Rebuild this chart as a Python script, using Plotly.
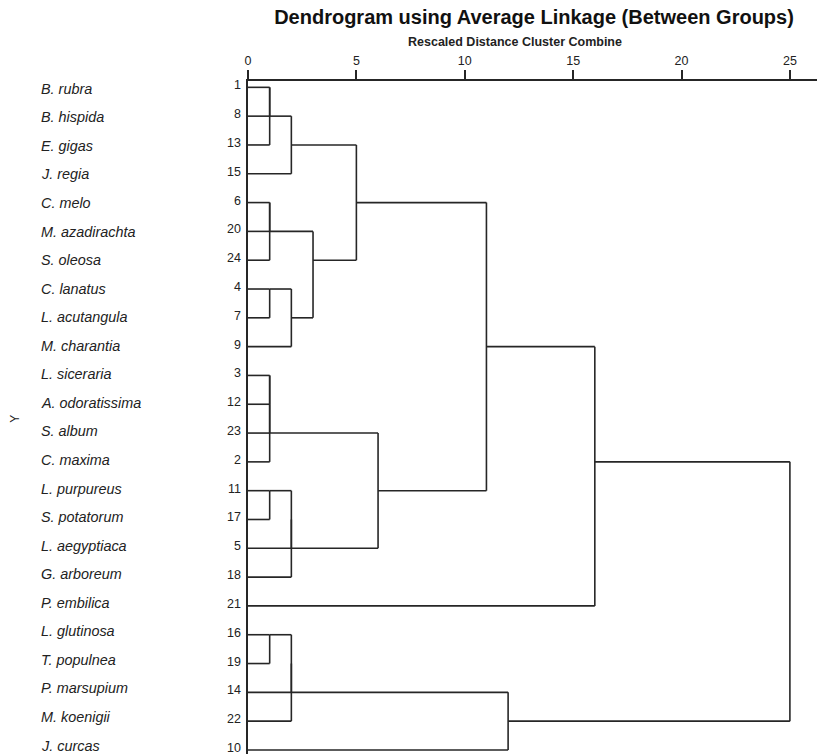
import plotly.graph_objects as go

# Leaves in dendrogram order (case number and species name)
case_numbers = [1, 8, 13, 15, 6, 20, 24, 4, 7, 9, 3, 12, 23, 2, 11, 17, 5, 18, 21, 16, 19, 14, 22, 10]
species = ["B. rubra", "B. hispida", "E. gigas", "J. regia", "C. melo", "M. azadirachta",
           "S. oleosa", "C. lanatus", "L. acutangula", "M. charantia", "L. siceraria",
           "A. odoratissima", "S. album", "C. maxima", "L. purpureus", "S. potatorum",
           "L. aegyptiaca", "G. arboreum", "P. embilica", "L. glutinosa", "T. populnea",
           "P. marsupium", "M. koenigii", "J. curcas"]

# Agglomeration schedule: clusters combined (by a member case) and rescaled distance
merge_a = [1, 1, 6, 6, 4, 3, 3, 3, 11, 16, 1, 4, 11, 11, 16, 16, 6, 1, 3, 1, 16, 1, 1]
merge_b = [8, 13, 20, 24, 7, 12, 23, 2, 17, 19, 15, 9, 5, 18, 14, 22, 4, 6, 11, 3, 10, 21, 16]
merge_dist = [1, 1, 1, 1, 1, 1, 1, 1, 1, 1, 2, 2, 2, 2, 2, 2, 3, 5, 6, 11, 12, 16, 25]

x_ticks = [0, 5, 10, 15, 20, 25]

# Layout of the tree: each cluster has a row (where its line leaves) and a height
row_of_case = {c: i for i, c in enumerate(case_numbers)}
owner = {c: c for c in case_numbers}          # case -> cluster id
cluster_row = {c: row_of_case[c] for c in case_numbers}
cluster_h = {c: 0.0 for c in case_numbers}


def find(c):
    while owner[c] != c:
        c = owner[c]
    return c


xs, ys = [], []
for a, b, d in zip(merge_a, merge_b, merge_dist):
    ca, cb = find(a), find(b)
    ra, rb = cluster_row[ca], cluster_row[cb]
    # horizontal lines from each child up to the joining distance
    for c, r in ((ca, ra), (cb, rb)):
        xs += [cluster_h[c], d, None]
        ys += [r, r, None]
    # vertical connector
    top, bot = min(ra, rb), max(ra, rb)
    xs += [d, d, None]
    ys += [top, bot, None]
    owner[cb] = ca
    cluster_row[ca] = (top + bot) // 2
    cluster_h[ca] = d

FONT = "Liberation Sans, Arial, Helvetica, sans-serif"
LINE = "#262626"

fig = go.Figure()
fig.add_trace(go.Scatter(x=xs, y=ys, mode="lines",
                         line=dict(color=LINE, width=1.6),
                         hoverinfo="skip", showlegend=False))

annotations = []
for i, (c, s) in enumerate(zip(case_numbers, species)):
    annotations.append(dict(text=str(c), x=0, xref="paper", y=i, yref="y",
                            xanchor="right", yanchor="middle", xshift=-5, yshift=2,
                            showarrow=False, font=dict(family=FONT, size=12.5, color="#222")))
    annotations.append(dict(text="<i>%s</i>" % s, x=0, xref="paper", y=i, yref="y2",
                            xanchor="left", yanchor="middle", xshift=-209,
                            showarrow=False, font=dict(family=FONT, size=14.4, color="#222")))

annotations.append(dict(text="<b>Rescaled Distance Cluster Combine</b>",
                        x=0.4701, xref="paper", y=1, yref="paper", yshift=39,
                        xanchor="center", yanchor="middle", showarrow=False,
                        font=dict(family=FONT, size=12.5, color="#222")))
annotations.append(dict(text="Y", x=0, xref="paper", xshift=-233, y=11.5, yref="y",
                        textangle=-90, xanchor="center", yanchor="middle", showarrow=False,
                        font=dict(family=FONT, size=12, color="#222")))

fig.update_layout(
    width=817, height=754,
    margin=dict(l=248, r=0, t=81, b=0),
    paper_bgcolor="white", plot_bgcolor="white",
    title=dict(text="<b>Dendrogram using Average Linkage (Between Groups)</b>",
               x=534 / 817, xref="container", xanchor="center",
               y=1 - 17 / 754, yref="container", yanchor="middle",
               font=dict(family=FONT, size=20, color="#111")),
    xaxis=dict(side="top", range=[0, 26.25], tickmode="array", tickvals=x_ticks,
               ticktext=[str(t) for t in x_ticks], ticks="outside", ticklen=9,
               tickwidth=1.6, tickcolor=LINE, showline=True, linecolor=LINE, linewidth=1.8,
               showgrid=False, zeroline=False, fixedrange=True,
               tickfont=dict(family=FONT, size=12.5, color="#222")),
    yaxis=dict(range=[23.14, -0.22], showticklabels=False, ticks="", showgrid=False,
               zeroline=False, showline=True, linecolor=LINE, linewidth=1.6,
               fixedrange=True),
    # row scale used for the species names column
    yaxis2=dict(range=[23.294, -0.2696], overlaying="y", visible=False, fixedrange=True),
    annotations=annotations,
)

fig.write_html("out.html")
